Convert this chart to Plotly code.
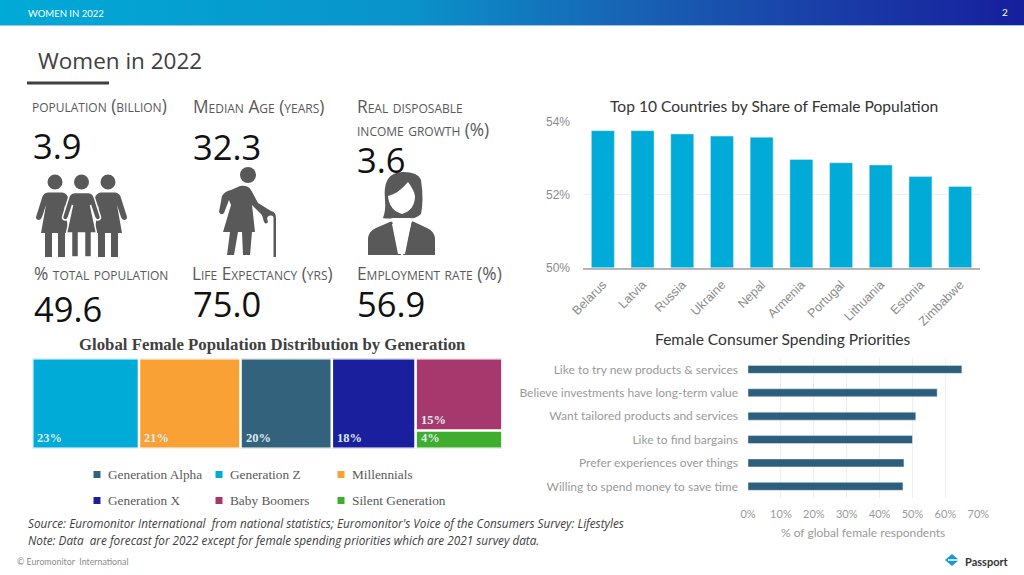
import numpy as np
import plotly.graph_objects as go

# page size in px, everything below is placed against this
W = 1024
H = 575

countries = ["Belarus", "Latvia", "Russia", "Ukraine", "Nepal", "Armenia", "Portugal", "Lithuania", "Estonia", "Zimbabwe"]
female_share = [53.75, 53.75, 53.66, 53.6, 53.57, 52.96, 52.87, 52.81, 52.49, 52.22]
share_ticks = [50, 52, 54]
share_tick_labels = ["50%", "52%", "54%"]

priorities = ["Like to try new products & services", "Believe investments have long-term value",
              "Want tailored products and services", "Like to find bargains",
              "Prefer experiences over things", "Willing to spend money to save time"]
priority_pct = [65, 57.5, 51, 50, 47.4, 47.1]

# tile sizes, the printed labels are rounded
generations = ["Generation Z", "Millennials", "Generation Alpha", "Generation X", "Baby Boomers", "Silent Generation"]
gen_size = [22.8, 21.7, 19.5, 17.9, 14.8, 3.7]
gen_labels = ["23%", "21%", "20%", "18%", "15%", "4%"]
gen_colors = ["#00ABD8", "#F9A134", "#33627C", "#1A1F9E", "#A6386D", "#3FAD2D"]

legend_names = ["Generation Alpha", "Generation Z", "Millennials", "Generation X", "Baby Boomers", "Silent Generation"]
legend_colors = ["#33627C", "#00ABD8", "#F9A134", "#1A1F9E", "#A6386D", "#3FAD2D"]

GREY = "#595959"
SANS = "Lato"


def dom_x(a, b):
    return [a / W, b / W]


def dom_y(top, bottom):
    return [1 - bottom / H, 1 - top / H]


def text(x, y, s, size=12, color="#404040", family=SANS, anchor="left", **font_extra):
    return dict(xref="x4", yref="y4", x=x, y=y, text=s, showarrow=False, xanchor=anchor, yanchor="middle",
                font=dict(size=size, color=color, family=family, **font_extra))


def woman(cx, half_hem=14):
    s = half_hem
    return (f"M{cx-7},192.5 L{cx+7},192.5 Q{cx+12},193 {cx+13},198 L{cx+19},217 Q{cx+19},220 {cx+16},220 "
            f"Q{cx+14},220 {cx+13},217 L{cx+9},205 L{cx+s},233 L{cx+10},233 L{cx+10},257 L{cx+3},257 L{cx+3},233 "
            f"L{cx-3},233 L{cx-3},257 L{cx-10},257 L{cx-10},233 L{cx-s},233 L{cx-9},205 L{cx-13},217 "
            f"Q{cx-14},220 {cx-16},220 Q{cx-19},220 {cx-19},217 L{cx-13},198 Q{cx-12},193 {cx-7},192.5 Z")


def circle(cx, cy, rx, ry=None, fill=GREY):
    ry = rx if ry is None else ry
    return dict(type="circle", xref="x4", yref="y4", x0=cx - rx, x1=cx + rx, y0=cy - ry, y1=cy + ry,
                fillcolor=fill, line_width=0)


def path(d, fill=GREY, line_color=None, line_width=0):
    return dict(type="path", xref="x4", yref="y4", path=d, fillcolor=fill,
                line=dict(color=line_color or fill, width=line_width))


fig = go.Figure()

# header gradient
fig.add_trace(go.Scatter(x=[0, W, W, 0, 0], y=[0, 0, 25, 25, 0], xaxis="x4", yaxis="y4", mode="lines",
                         fill="toself", line_width=0, hoverinfo="skip", showlegend=False,
                         fillgradient=dict(type="horizontal", colorscale=[[0, "#00AAD6"], [0.4, "#0A93CB"], [0.6, "#1766B5"], [0.8, "#1A3FA8"], [1, "#161F9C"]])))

fig.add_trace(go.Bar(x=countries, y=female_share, xaxis="x", yaxis="y", marker_color="#00ABD8",
                     showlegend=False))
fig.add_trace(go.Bar(x=priority_pct, y=priorities, orientation="h", xaxis="x2", yaxis="y2",
                     marker_color="#2D5E7C", showlegend=False))

# generation tiles: four full columns, then boomers over silent in the last column
col_sizes = gen_size[:4] + [gen_size[4] + gen_size[5]]
col_starts = np.cumsum([0] + col_sizes[:-1])
full_h = col_sizes[-1]
tile_x = list(col_starts[:4]) + [col_starts[4], col_starts[4]]
tile_w = gen_size[:4] + [col_sizes[4], col_sizes[4]]
tile_base = [0, 0, 0, 0, gen_size[5], 0]
tile_h = [full_h] * 4 + [gen_size[4], gen_size[5]]
fig.add_trace(go.Bar(x=[a + b / 2 for a, b in zip(tile_x, tile_w)], y=tile_h, base=tile_base, width=tile_w,
                     xaxis="x3", yaxis="y3", marker=dict(color=gen_colors, line=dict(color="white", width=2.4)),
                     customdata=generations, hovertemplate="%{customdata}<extra></extra>", showlegend=False))

annotations = [
    text(26, 13, "WOMEN IN 2022", 9.5, "white"),
    text(1005, 12, "2", 10, "white", anchor="center"),
    text(36, 60, "Women in 2022", 22.5, "#404040", "Open Sans"),
    text(774, 106, "Top 10 Countries by Share of Female Population", 15.6, "#333333", SANS, anchor="center"),
    text(782, 339, "Female Consumer Spending Priorities", 15.6, "#333333", SANS, anchor="center"),
    text(272, 344, "<b>Global Female Population Distribution by Generation</b>", 16.8, "#404040", "Liberation Serif", anchor="center"),
    text(26, 523, "<i>Source: Euromonitor International  from national statistics; Euromonitor's Voice of the Consumers Survey: Lifestyles</i>", 11.75, "#404040", "Open Sans"),
    text(26, 540, "<i>Note: Data  are forecast for 2022 except for female spending priorities which are 2021 survey data.</i>", 11.75, "#404040", "Open Sans"),
    text(15, 561, "© Euromonitor  International", 8.8, "#8c8c8c"),
    text(963, 561, "<b>Passport</b>", 11, "#333333"),
]

# KPI block
kpi_heads = [(30, 105.5, "population (billion)"), (191, 106, "Median Age (years)"), (355, 106, "Real disposable"),
             (355, 129, "income growth (%)"), (32, 273, "% total population"), (190, 273, "Life Expectancy (yrs)"),
             (355, 273, "Employment rate (%)")]
for x, y, s in kpi_heads:
    annotations.append(text(x, y, s, 17.3, "#595959", "Open Sans", variant="small-caps"))
kpi_values = [(31, 145, "3.9"), (191, 146, "32.3"), (355, 159, "3.6"), (32, 308, "49.6"), (191, 303, "75.0"), (355, 303, "56.9")]
for x, y, s in kpi_values:
    annotations.append(text(x, y, s, 34.5, "#111111", "Open Sans"))

# tile labels sit in the bottom left corner of each tile
for x, base, s in zip(tile_x, tile_base, gen_labels):
    annotations.append(dict(xref="x3", yref="y3", x=x, y=base, text=f"<b>{s}</b>", showarrow=False, xanchor="left",
                            yanchor="bottom", xshift=3, yshift=2,
                            font=dict(size=12.5, color="#DCE9EE", family="Liberation Serif")))

shapes = [
    dict(type="rect", xref="x4", yref="y4", x0=0, x1=W, y0=25, y1=26, fillcolor="#9CC4E4", line_width=0),
    dict(type="rect", xref="x4", yref="y4", x0=27, x1=109, y0=81.5, y1=84.5, fillcolor="#404040", line_width=0),
]

# generation legend, laid out by hand in two rows
leg_x = [97, 219, 341]
leg_text_x = [106, 228, 350]
leg_y = [474.5, 500.5]
for i, (name, col) in enumerate(zip(legend_names, legend_colors)):
    c = i % 3
    r = i // 3
    shapes.append(dict(type="rect", xref="x4", yref="y4", x0=leg_x[c] - 3.5, x1=leg_x[c] + 3.5, y0=leg_y[r] - 3.5,
                       y1=leg_y[r] + 3.5, fillcolor=col, line_width=0))
    annotations.append(text(leg_text_x[c], leg_y[r], name, 13.3, "#595959", "Liberation Serif"))

# icons: three women
for cx in (55, 108):
    shapes.append(circle(cx, 182, 7.5))
    shapes.append(path(woman(cx)))
shapes.append(circle(81.5, 182, 7.5))
shapes.append(path(woman(81.5, 15), line_color="white", line_width=1.5))

# icon: woman with cane
shapes.append(circle(248, 175, 8))
shapes.append(path("M240,186 Q248,185 251,190 L258,203 L271,211 Q276,212 276,218 L276,257 L273.5,257 L273.5,218 "
                   "Q273.5,215.5 271,215.5 Q268,215 267,218 L268,222 Q266,225 264,222 L262,215 L255,208 L252,205 "
                   "L255,232 L252,232 L250,255 L243,255 L242,232 L238,232 L234,255 L227,255 L230,232 L223,232 "
                   "L231,205 L229,200 L224,213 Q221,216 219,212 L222,196 Q225,191 231,190 Z"))

# icon: business woman
shapes.append(path("M368,255 L368,238 Q369,231 376,228 L392,221 L401,255 Z"))
shapes.append(path("M435,255 L435,238 Q434,231 427,228 L412,221 L403,255 Z"))
shapes.append(path("M383,218 Q386,210 385,200 Q382,172 403,172 Q418,172 421,180 Q424,200 421,214 Q416,219 410,218 L393,218 Q388,219 383,218 Z"))
shapes.append(path("M388,196 Q398,194 408,182 Q414,190 415,196 Q415,210 402,214 Q389,210 388,196 Z", fill="white"))
shapes.append(path("M389,221 Q401,225 414,221 L412,219 Q401,222 391,219 Z", fill="white"))
shapes.append(path("M392,224 L411,224 L405,254 L398,254 Z", fill="white"))

# Passport logo
shapes.append(path("M945,560 L952,554 L959,560 L952,566 Z", fill="#1B9AD2"))
shapes.append(path("M948,560 L961,560", fill="white", line_color="white", line_width=1.5))

axis_font = dict(size=12, color="#8c8c8c", family="Liberation Sans")
small_font = dict(size=12, color="#9a9a9a", family=SANS)
fig.update_layout(
    width=W, height=H, autosize=False, margin=dict(l=0, r=0, t=0, b=0, pad=0, autoexpand=False),
    paper_bgcolor="white", plot_bgcolor="rgba(0,0,0,0)", showlegend=False, bargap=0.42,
    xaxis=dict(domain=dom_x(583, 980), anchor="y", tickangle=-45, tickfont=dict(axis_font, size=12.5), showgrid=False,
               showline=True, linecolor="#b5b5b5", linewidth=2, ticks="", automargin=False, ticklabelstandoff=3),
    yaxis=dict(domain=dom_y(121.5, 267.5), anchor="x", range=[50, 54], tickvals=share_ticks, ticktext=share_tick_labels,
               tickfont=axis_font, gridcolor="#eeeeee", zeroline=False, ticks="", automargin=False, ticklabelstandoff=12),
    xaxis2=dict(domain=dom_x(748, 978.3), anchor="y2", range=[0, 70], dtick=10, ticksuffix="%",
                tickfont=dict(size=11, color="#9a9a9a", family=SANS), gridcolor="#eeeeee", zeroline=False, ticks="",
                automargin=False, ticklabelstandoff=8,
                title=dict(text="% of global female respondents", standoff=9, font=small_font)),
    yaxis2=dict(domain=dom_y(357.7, 498), anchor="x2", autorange="reversed", categoryorder="array",
                categoryarray=priorities, tickfont=small_font, ticks="", ticklabelstandoff=9, automargin=False),
    xaxis3=dict(domain=dom_x(32.3, 502.3), anchor="y3", range=[0, sum(col_sizes)], visible=False),
    yaxis3=dict(domain=dom_y(358.3, 448.7), anchor="x3", range=[0, full_h], visible=False),
    xaxis4=dict(domain=[0, 1], anchor="y4", range=[0, W], visible=False),
    yaxis4=dict(domain=[0, 1], anchor="x4", range=[H, 0], visible=False),
    annotations=annotations,
    shapes=shapes,
)
fig.update_traces(selector=dict(xaxis="x2"), width=0.34)

fig.write_html("out.html", config={"displayModeBar": False},
               post_script="document.body.style.margin='0';document.body.style.overflow='hidden';")
